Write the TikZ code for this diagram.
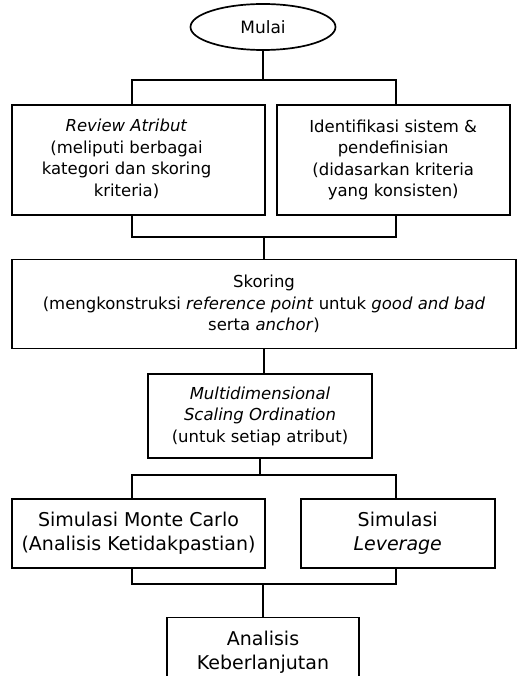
\documentclass[tikz,border=0pt]{standalone}
\usepackage{fontspec}
\setmainfont{DejaVu Sans}
\usetikzlibrary{positioning,shapes.geometric}

\begin{document}
\begin{tikzpicture}[x=1pt,y=1pt,line width=1.7pt,node distance=24pt,
	box/.style={draw,rectangle,align=center,inner sep=2pt,font=\fontsize{16.5}{21.5}\selectfont},
	bigbox/.style={box,font=\fontsize{19}{23.5}\selectfont}]
	\path[use as bounding box,clip] (0,0) rectangle (518,-676);

	  \node[ellipse,draw,minimum width=145pt,minimum height=46pt,font=\fontsize{17}{18}\selectfont] (start) at (263,-27) {Mulai};
	  \node[box,align=none,minimum width=253pt,minimum height=110pt] (review) [below=53pt of start,xshift=-124.5pt] {\begin{tabular}{@{}c@{}}\textit{Review Atribut}\\(meliputi berbagai\\kategori dan skoring\\kriteria)\end{tabular}\kern24pt};
	  \node[box,minimum width=233pt,minimum height=110pt] (ident) [right=10pt of review] {Identifikasi sistem \&\\pendefinisian\\(didasarkan kriteria\\yang konsisten)};
	  \node[box,minimum width=504pt,minimum height=89pt] (score) [below=43pt of review,xshift=125.5pt] {Skoring\\(mengkonstruksi \textit{reference point} untuk \textit{good and bad}\\serta \textit{anchor})};
	  \node[box,minimum width=224pt,minimum height=84pt] (mds) [below=of score,xshift=-4pt] {\textit{Multidimensional}\\\textit{Scaling Ordination}\\(untuk setiap atribut)};
	  \node[bigbox,minimum width=253pt,minimum height=69pt] (monte) [below=39pt of mds,xshift=-121.5pt] {Simulasi Monte Carlo\\(Analisis Ketidakpastian)};
	  \node[bigbox,minimum width=194pt,minimum height=69pt] (lever) [right=34pt of monte] {Simulasi\\\textit{Leverage}};
	  \node[bigbox,minimum width=192pt,minimum height=69pt] (hasil) [below=48pt of monte,xshift=124.5pt] {Analisis\\Keberlanjutan};

	  % forks and joins
	  \coordinate (f1l) at (132,-80);  \coordinate (f1r) at (396,-80);
	  \coordinate (j1l) at (132,-237); \coordinate (j1r) at (396,-237);
	  \coordinate (f2l) at (132,-475); \coordinate (f2r) at (396,-475);
	  \coordinate (j2l) at (132,-584); \coordinate (j2r) at (396,-584);

	  \draw (start.south) -- (start.south |- f1l);
	  \draw (f1l |- review.north) -- (f1l) -- (f1r) -- (f1r |- ident.north);
	  \draw (j1l |- review.south) -- (j1l) -- (j1r) -- (j1r |- ident.south);
	  \draw (score.north |- j1l) -- (score.north);
	  \draw (score.south) -- (score.south |- mds.north);
	  \draw (mds.south) -- (mds.south |- f2l);
	  \draw (f2l |- monte.north) -- (f2l) -- (f2r) -- (f2r |- lever.north);
	  \draw (j2l |- monte.south) -- (j2l) -- (j2r) -- (j2r |- lever.south);
	  \draw (hasil.north |- j2l) -- (hasil.north);
	\end{tikzpicture}
\end{document}
